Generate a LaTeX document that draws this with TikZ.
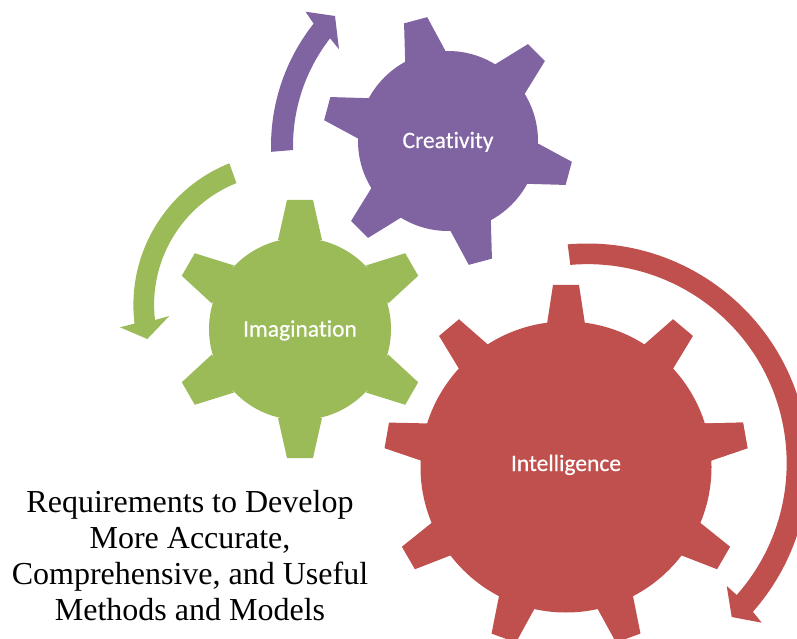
\documentclass[tikz,border=0pt]{standalone}
\usepackage{fontspec}
\setmainfont{Liberation Serif}
\newfontfamily\gearfont[Ligatures=NoCommon,FakeBold=0.4]{Carlito}
\definecolor{crepurple}{HTML}{8064A2}
\definecolor{imagreen}{HTML}{9BBB59}
\definecolor{intred}{HTML}{C0504D}
\tikzset{
  gearbody/.style={circle,inner sep=0pt,text=white,font=\gearfont\fontsize{23.5}{28}\selectfont},
  caption/.style={align=center,font=\fontsize{32}{36}\selectfont,inner sep=0pt}
}
\begin{document}
\begin{tikzpicture}[x=1pt,y=1pt]
  \clip (0,0) rectangle (797,638);
  % gears
  \node[gearbody,fill=crepurple,minimum size=180pt] (cre) at (448,497) {\raisebox{-7pt}[0pt][0pt]{Creativity}};
  \node[gearbody,fill=imagreen,minimum size=182pt] (ima) at (300,309) {\raisebox{-7.5pt}[0pt][0pt]{Imagination}};
  \node[gearbody,fill=intred,minimum size=291pt] (int) at (566,171) {\raisebox{-4pt}[0pt][0pt]{Intelligence}};
  \foreach \a in {45,105,...,345}
    \fill[crepurple,shift={(cre.center)},rotate=\a] (87,-21) -- (125,-12) -- (125,12) -- (87,21) -- cycle;
  \foreach \a in {30,90,...,330}
    \fill[imagreen,shift={(ima.center)},rotate=\a] (89,-22) -- (129,-13) -- (129,13) -- (89,22) -- cycle;
  \foreach \a in {10,50,...,370}
    \fill[intred,shift={(int.center)},rotate=\a] (143,-19) -- (182,-13) -- (182,13) -- (143,19) -- cycle;
  % arrows
  \coordinate (crec) at (468,492);
  \coordinate (imac) at (286,333);
  \coordinate (intc) at (587,173);
  \fill[crepurple] (crec) ++(181.7:197) arc[start angle=181.7,end angle=141.6,radius=197]
    -- (305.5,626.3) -- (335,622) -- (339,588.7) -- (330.1,599.7)
    arc[start angle=142,end angle=181.3,radius=175] -- cycle;
  \fill[imagreen] (imac) ++(111.8:152.6) arc[start angle=111.8,end angle=187,radius=152.6]
    -- (120,310.7) -- (147.3,299) -- (169.3,322) -- (155,318)
    arc[start angle=186.7,end angle=111.8,radius=131] -- cycle;
  \fill[intred] (intc) ++(95:221.5) arc[start angle=95,end angle=-41.5,radius=221.5]
    -- (761.7,15.3) -- (731.7,21) -- (726.7,52) -- (736.7,43)
    arc[start angle=-41.5,end angle=95,radius=199] -- cycle;
  % text
  \node[caption] (req) at (190,82) {Requirements to Develop\\More Accurate,\\Comprehensive, and Useful\\Methods and Models};
\end{tikzpicture}
\end{document}
